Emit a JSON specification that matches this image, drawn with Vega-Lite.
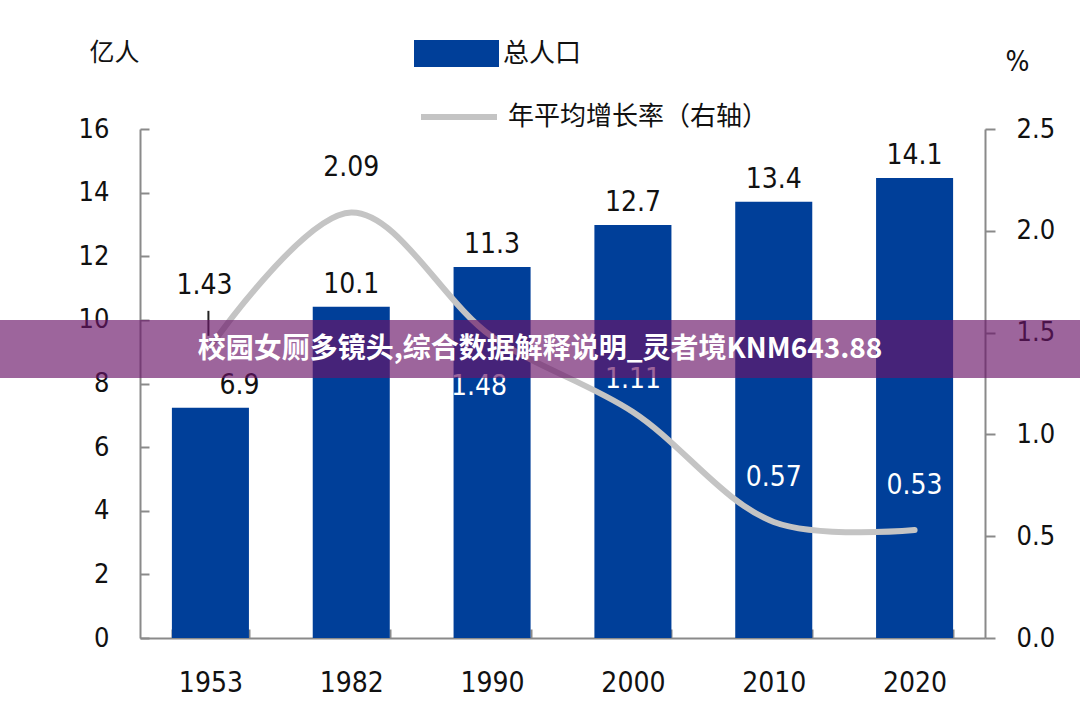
{
  "$schema": "https://vega.github.io/schema/vega-lite/v6.json",
  "width": 845,
  "height": 509,
  "autosize": {"type": "none"},
  "padding": {"left": 140, "top": 129, "right": 95, "bottom": 63},
  "background": "white",
  "config": {
    "view": {"stroke": null},
    "font": "DejaVu Sans Condensed",
    "axis": {
      "domainColor": "#8a8a8a",
      "domainWidth": 2,
      "tickColor": "#8a8a8a",
      "tickWidth": 2,
      "grid": false,
      "labelColor": "#111111",
      "labelFont": "DejaVu Sans Condensed",
      "labelFontSize": 27
    }
  },
  "datasets": {
    "pop": [
      {"year": "1953", "bar": 7.24, "label": "6.9", "rate": 1.43},
      {"year": "1982", "bar": 10.41, "label": "10.1", "rate": 2.09},
      {"year": "1990", "bar": 11.66, "label": "11.3", "rate": 1.48},
      {"year": "2000", "bar": 12.98, "label": "12.7", "rate": 1.11},
      {"year": "2010", "bar": 13.71, "label": "13.4", "rate": 0.57},
      {"year": "2020", "bar": 14.46, "label": "14.1", "rate": 0.53}
    ]
  },
  "layer": [
    {
      "data": {"name": "pop"},
      "encoding": {
        "x": {
          "field": "year",
          "type": "ordinal",
          "scale": {"paddingInner": 0.453, "paddingOuter": 0.2265},
          "axis": {
            "title": null,
            "labelAngle": 0,
            "labelFontSize": 28,
            "tickBand": "extent",
            "tickSize": -9,
            "labelPadding": 40
          }
        }
      },
      "layer": [
        {
          "mark": {"type": "bar"},
          "encoding": {
            "y": {
              "field": "bar",
              "type": "quantitative",
              "scale": {"domain": [0, 16], "nice": false},
              "axis": {
                "values": [0, 2, 4, 6, 8, 10, 12, 14, 16],
                "tickSize": -9,
                "labelPadding": 40,
                "title": "亿人",
                "titleAngle": 0,
                "titleX": -26,
                "titleY": -77,
                "titleAlign": "center",
                "titleBaseline": "middle",
                "titleFont": "Noto Sans CJK SC",
                "titleFontSize": 25,
                "titleFontWeight": "normal",
                "titleColor": "#111111"
              }
            },
            "color": {
              "datum": "总人口",
              "scale": {"domain": ["总人口"], "range": ["#003f99"]},
              "legend": {
                "orient": "none",
                "legendX": 274,
                "legendY": -118,
                "title": null,
                "padding": 0,
                "symbolType": "M-1,-0.32H1V0.32H-1Z",
                "symbolSize": 7225,
                "symbolStrokeWidth": 0,
                "symbolOpacity": 1,
                "labelFont": "Noto Sans CJK SC",
                "labelFontSize": 26,
                "labelColor": "#111111",
                "labelOffset": 4,
                "labelLimit": 400
              }
            }
          }
        },
        {
          "transform": [{"filter": "datum.year == '1953'"}],
          "mark": {"type": "text", "dx": 29, "dy": -22, "fontSize": 28, "color": "#111111"},
          "encoding": {
            "y": {"field": "bar", "type": "quantitative"},
            "text": {"field": "label"}
          }
        },
        {
          "transform": [{"filter": "datum.year != '1953'"}],
          "mark": {"type": "text", "dy": -22, "fontSize": 28, "color": "#111111"},
          "encoding": {
            "y": {"field": "bar", "type": "quantitative"},
            "text": {"field": "label"}
          }
        }
      ]
    },
    {
      "data": {"name": "pop"},
      "encoding": {
        "x": {"field": "year", "type": "ordinal"}
      },
      "layer": [
        {
          "mark": {"type": "line", "interpolate": "catmull-rom", "strokeWidth": 6, "strokeCap": "round"},
          "encoding": {
            "y": {
              "field": "rate",
              "type": "quantitative",
              "scale": {"domain": [0, 2.5], "nice": false},
              "axis": {
                "orient": "right",
                "values": [0, 0.5, 1, 1.5, 2, 2.5],
                "format": ".1f",
                "tickSize": 10,
                "labelPadding": 21,
                "title": "%",
                "titleAngle": 0,
                "titleX": 32,
                "titleY": -67,
                "titleAlign": "center",
                "titleBaseline": "middle",
                "titleFont": "DejaVu Sans Condensed",
                "titleFontSize": 28,
                "titleFontWeight": "normal",
                "titleColor": "#111111"
              }
            },
            "stroke": {
              "datum": "年平均增长率（右轴）",
              "scale": {"domain": ["年平均增长率（右轴）"], "range": ["#c4c4c4"]},
              "legend": {
                "orient": "none",
                "legendX": 278,
                "legendY": -53,
                "title": null,
                "padding": 0,
                "symbolType": "stroke",
                "symbolSize": 5776,
                "symbolStrokeWidth": 6,
                "labelFont": "Noto Sans CJK SC",
                "labelFontSize": 26,
                "labelColor": "#111111",
                "labelOffset": 8,
                "labelLimit": 400
              }
            }
          }
        },
        {
          "transform": [{"filter": "datum.year == '1953'"}],
          "mark": {"type": "rule", "color": "#222222", "strokeWidth": 2, "xOffset": -2, "yOffset": -36, "y2Offset": -11},
          "encoding": {
            "y": {"field": "rate", "type": "quantitative"},
            "y2": {"field": "rate"}
          }
        },
        {
          "transform": [{"filter": "datum.year == '1953'"}],
          "mark": {"type": "text", "dx": -6, "dy": -61, "fontSize": 28, "color": "#111111"},
          "encoding": {
            "y": {"field": "rate", "type": "quantitative"},
            "text": {"field": "rate", "format": ".2f"}
          }
        },
        {
          "transform": [{"filter": "datum.year == '1982'"}],
          "mark": {"type": "text", "dy": -44, "fontSize": 28, "color": "#111111"},
          "encoding": {
            "y": {"field": "rate", "type": "quantitative"},
            "text": {"field": "rate", "format": ".2f"}
          }
        },
        {
          "transform": [{"filter": "datum.year == '1990'"}],
          "mark": {"type": "text", "dx": -13, "dy": 50, "fontSize": 28, "color": "white"},
          "encoding": {
            "y": {"field": "rate", "type": "quantitative"},
            "text": {"field": "rate", "format": ".2f"}
          }
        },
        {
          "transform": [{"filter": "datum.year == '2000'"}],
          "mark": {"type": "text", "dy": -32, "fontSize": 28, "color": "white"},
          "encoding": {
            "y": {"field": "rate", "type": "quantitative"},
            "text": {"field": "rate", "format": ".2f"}
          }
        },
        {
          "transform": [{"filter": "datum.year == '2010' || datum.year == '2020'"}],
          "mark": {"type": "text", "dy": -44, "fontSize": 28, "color": "white"},
          "encoding": {
            "y": {"field": "rate", "type": "quantitative"},
            "text": {"field": "rate", "format": ".2f"}
          }
        }
      ]
    },
    {
      "data": {"values": [{"t": "校园女厕多镜头,综合数据解释说明_灵者境KNM643.88"}]},
      "layer": [
        {
          "mark": {"type": "rect", "fill": "#6a1668", "opacity": 0.66},
          "encoding": {
            "x": {"value": -140},
            "x2": {"value": 940},
            "y": {"datum": 10.0, "type": "quantitative", "scale": {"domain": [0, 16], "nice": false}, "axis": null},
            "y2": {"datum": 8.17}
          }
        },
        {
          "mark": {"type": "text", "font": "Noto Sans CJK SC", "fontWeight": "bold", "fontSize": 28, "color": "white"},
          "encoding": {
            "x": {"value": 400},
            "y": {"datum": 9.05, "type": "quantitative"},
            "text": {"field": "t"}
          }
        }
      ]
    }
  ],
  "resolve": {"scale": {"y": "independent"}}
}
